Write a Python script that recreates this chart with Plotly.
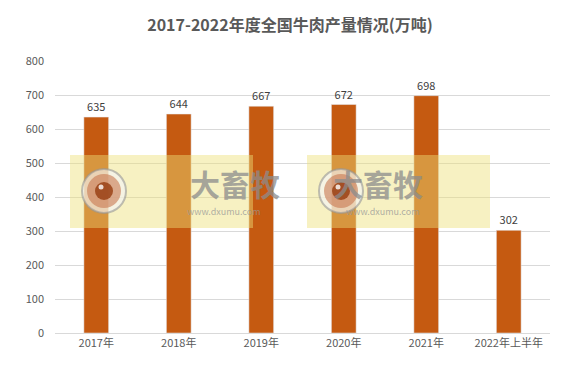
import plotly.graph_objects as go

categories = ["2017年", "2018年", "2019年", "2020年", "2021年", "2022年上半年"]
values = [635, 644, 667, 672, 698, 302]
y_ticks = [0, 100, 200, 300, 400, 500, 600, 700, 800]

FONT = "Noto Sans CJK SC, Noto Sans, sans-serif"
ML, MR, MT, MB = 55, 30, 61, 47
W, H = 580, 380
PW, PH = W - ML - MR, H - MT - MB


def px(x):
    return (x - ML) / PW


def py(y):
    return (H - MB - y) / PH


fig = go.Figure(go.Bar(
    x=categories, y=values, width=0.3,
    marker=dict(color="#C55A11"),
    text=[str(v) for v in values], textposition="outside",
    textfont=dict(size=11, color="#404040", family=FONT),
    cliponaxis=False,
))

shapes = []
annotations = []


def circ(cx, cy, r, fill, line=None):
    return dict(type="circle", xref="paper", yref="paper",
                x0=px(cx - r), x1=px(cx + r), y0=py(cy + r), y1=py(cy - r),
                fillcolor=fill, line=line or dict(width=0), layer="above")


for x0 in (70, 307):
    shapes.append(dict(type="rect", xref="paper", yref="paper",
                       x0=px(x0), x1=px(x0 + 183), y0=py(228), y1=py(155),
                       fillcolor="rgba(238,225,120,0.45)", line=dict(width=0), layer="above"))
    cx, cy = x0 + 34, 191
    shapes.append(circ(cx, cy, 22, "rgba(245,245,245,0.65)", dict(color="rgba(150,150,150,0.6)", width=2)))
    shapes.append(circ(cx, cy, 17, "rgba(200,120,80,0.6)"))
    shapes.append(circ(cx, cy, 9, "rgba(150,60,15,0.8)"))
    shapes.append(circ(cx - 3, cy - 4, 2.5, "rgba(255,255,255,0.8)"))
    annotations.append(dict(xref="paper", yref="paper", x=px(x0 + 118), y=py(183),
                            text="<b>大畜牧</b>", showarrow=False,
                            font=dict(size=30, color="rgba(140,140,140,0.75)", family=FONT)))
    annotations.append(dict(xref="paper", yref="paper", x=px(x0 + 115), y=py(211),
                            text="www.dxumu.com", showarrow=False,
                            font=dict(size=9, color="rgba(150,150,150,0.75)", family=FONT)))

fig.update_layout(
    width=W, height=H,
    margin=dict(l=ML, r=MR, t=MT, b=MB),
    paper_bgcolor="white", plot_bgcolor="white",
    title=dict(text="<b>2017-2022年度全国牛肉产量情况(万吨)</b>", x=0.5, xanchor="center",
               y=1 - 25 / H, yanchor="middle",
               font=dict(size=16, color="#595959", family=FONT)),
    xaxis=dict(showline=True, linecolor="#D9D9D9", linewidth=1, ticks="",
               tickfont=dict(size=11, color="#595959", family=FONT)),
    yaxis=dict(range=[0, 800], tickvals=y_ticks, showgrid=True, gridcolor="#D9D9D9",
               zeroline=False, showline=False, ticks="",
               tickfont=dict(size=11, color="#595959", family=FONT), ticklabelstandoff=10),
    showlegend=False,
    shapes=shapes, annotations=annotations,
    font=dict(family=FONT),
)

fig.write_html("out.html")
